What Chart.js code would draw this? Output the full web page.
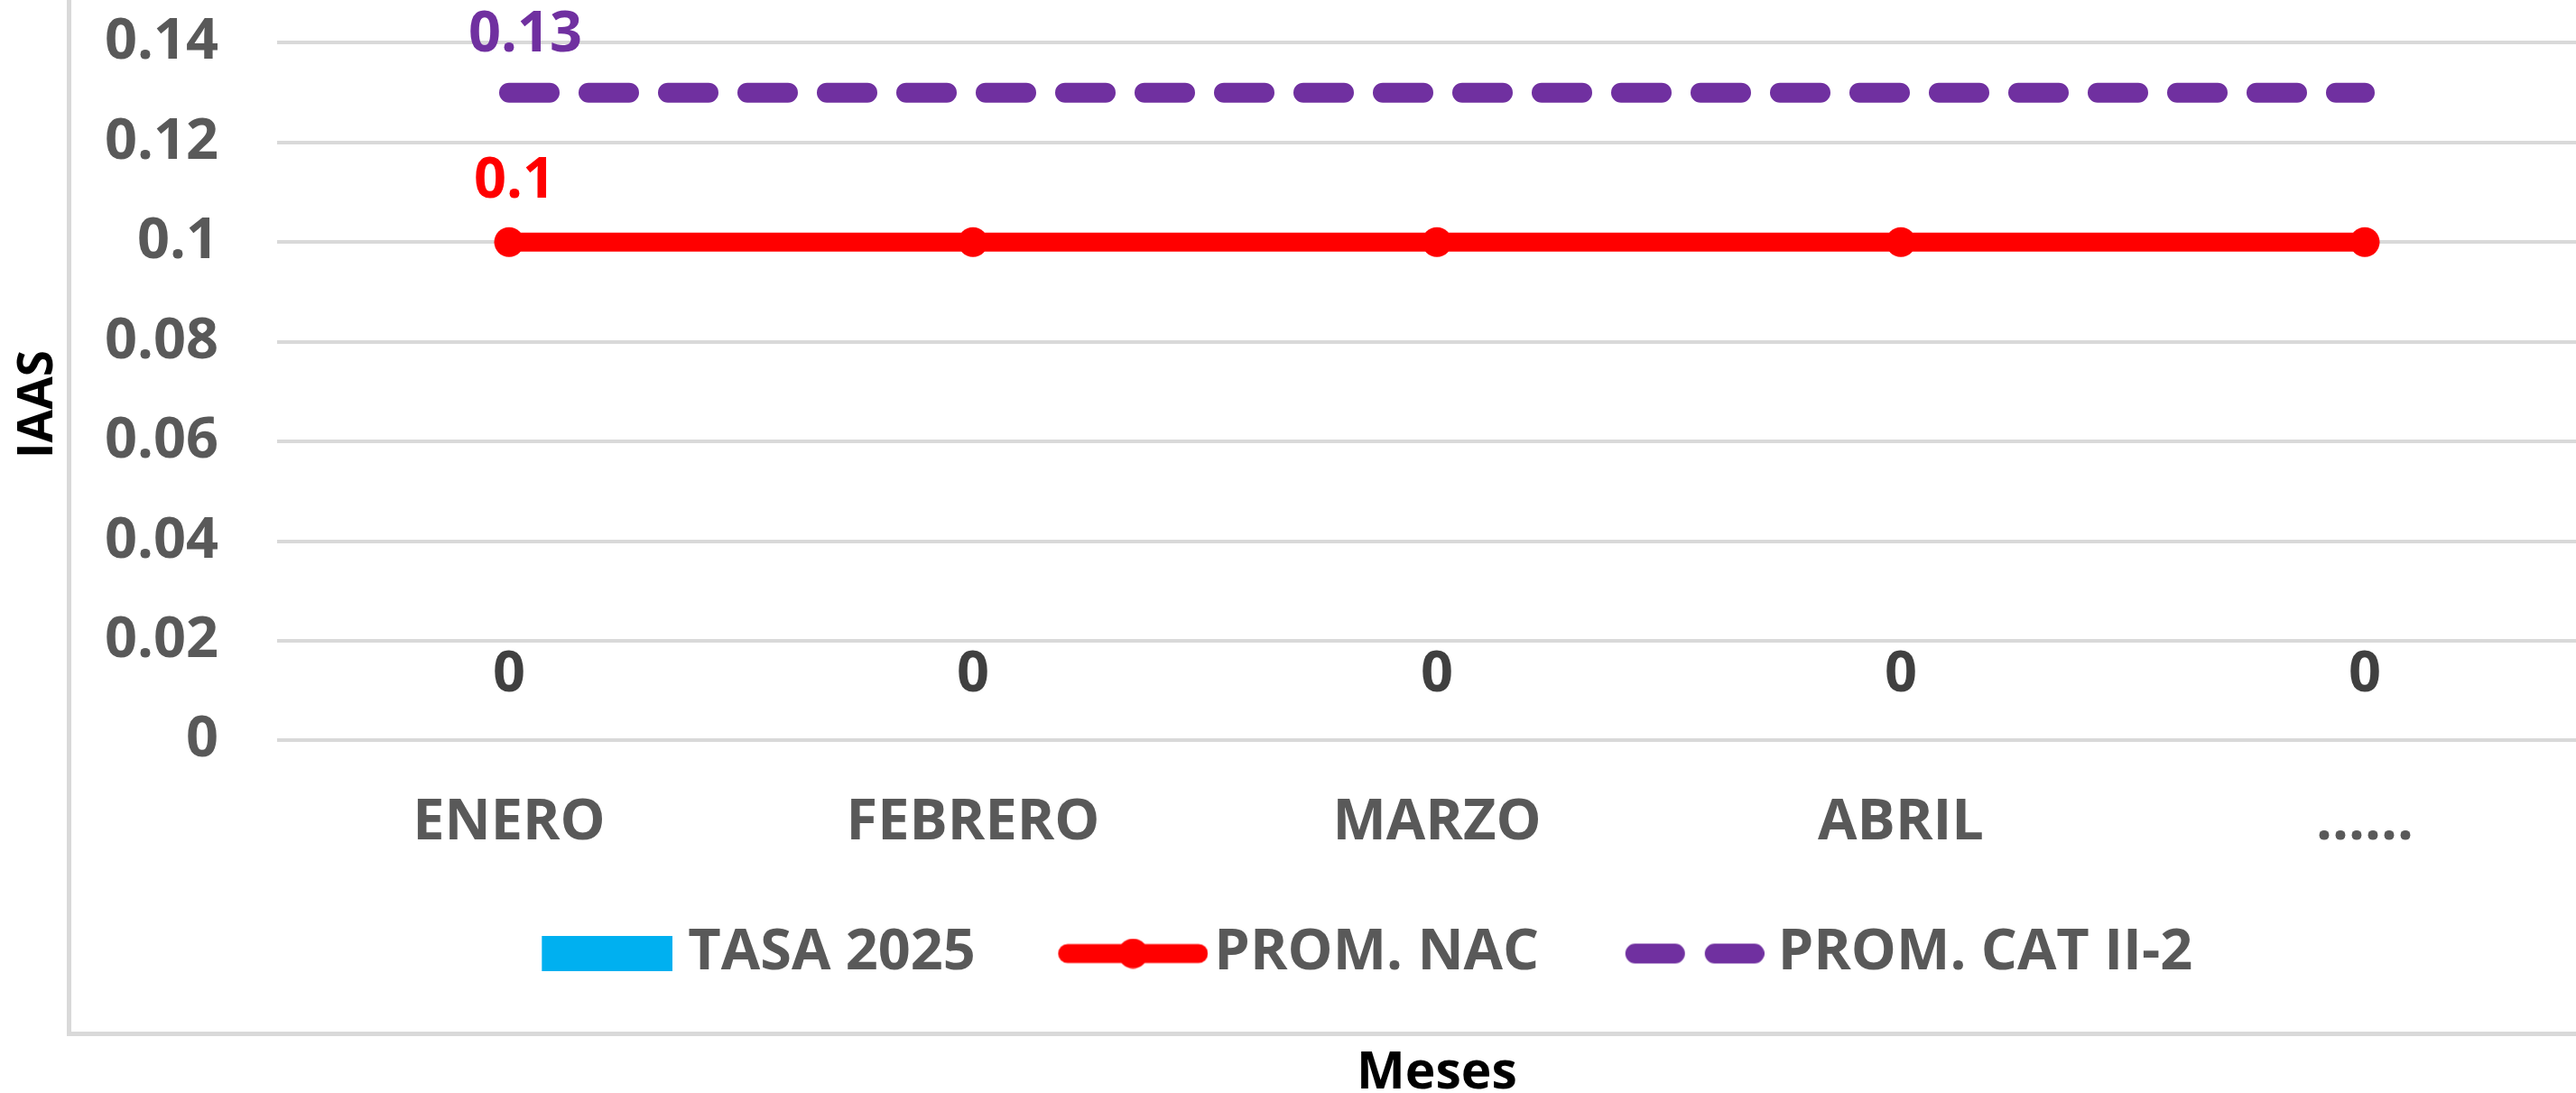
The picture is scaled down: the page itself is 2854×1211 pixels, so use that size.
<!DOCTYPE html>
<html>
<head>
<meta charset="utf-8">
<script src="https://cdn.jsdelivr.net/npm/chart.js@4.4.1/dist/chart.umd.min.js"></script>
<style>
  html, body { margin: 0; padding: 0; background: #fff; width: 2854px; height: 1211px; overflow: hidden; position: relative; }
  #chart { position: absolute; left: 0; top: -150px; }
</style>
</head>
<body>
<canvas id="chart" width="2952" height="1400"></canvas>
<script>
// data
var months = ['ENERO', 'FEBRERO', 'MARZO', 'ABRIL', '......'];
var tasa2025 = [0, 0, 0, 0, 0];
var promNac = [0.1, 0.1, 0.1, 0.1, 0.1];
var promCat = [0.13, 0.13, 0.13, 0.13, 0.13];
var seriesNames = ['TASA 2025', 'PROM. NAC', 'PROM. CAT II-2'];
var yTicks = { min: 0, max: 0.16, step: 0.02 };
// which points carry a value label
var labelAt = [[0, 1, 2, 3, 4], [0], [0]];

var colors = { bar: '#00B0F0', nac: '#FF0000', cat: '#7030A0', text: '#595959', grid: '#D9D9D9' };
var FONT = "'Open Sans', sans-serif";
var fontSize = 63;
var boxW = 212;

Chart.defaults.font.family = FONT;

// legend symbols drawn on small canvases, symbol kept at the right side
function icon(gap, len, h, draw) {
  var c = document.createElement('canvas');
  c.width = boxW + fontSize - 2 * gap;
  c.height = h;
  var g = c.getContext('2d');
  g.translate(c.width - len, 0);
  draw(g, len, h);
  return c;
}
var legendIcons = [
  icon(17, 145, 39, function(g, w, h) {
    g.fillStyle = colors.bar;
    g.fillRect(0, 0, w, h);
  }),
  icon(7, 166, 34, function(g, w, h) {
    g.strokeStyle = colors.nac;
    g.lineWidth = 21;
    g.lineCap = 'round';
    g.beginPath();
    g.moveTo(10.5, h / 2);
    g.lineTo(w - 10.5, h / 2);
    g.stroke();
    g.fillStyle = colors.nac;
    g.beginPath();
    g.arc(w / 2, h / 2, 16.5, 0, Math.PI * 2);
    g.fill();
  }),
  icon(15, 154, 24, function(g, w, h) {
    g.strokeStyle = colors.cat;
    g.lineWidth = 22;
    g.lineCap = 'round';
    g.beginPath();
    g.moveTo(11, h / 2); g.lineTo(66 - 11, h / 2);
    g.moveTo(w - 66 + 11, h / 2); g.lineTo(w - 11, h / 2);
    g.stroke();
  })
];

var boxPlugin = {
  id: 'box',
  beforeDraw: function(chart) {
    var ctx = chart.ctx;
    ctx.save();
    ctx.fillStyle = '#fff';
    ctx.fillRect(0, 0, chart.width, chart.height);
    ctx.strokeStyle = colors.grid;
    ctx.lineWidth = 5;
    ctx.strokeRect(76.5, -20, 4000, 1315.5);
    ctx.restore();
  },
  afterDraw: function(chart) {
    // y axis title
    var ctx = chart.ctx;
    ctx.save();
    ctx.translate(42.5, 598);
    ctx.rotate(-Math.PI / 2);
    ctx.font = 'bold 53px ' + FONT;
    ctx.fillStyle = '#000';
    ctx.textAlign = 'center';
    ctx.textBaseline = 'middle';
    ctx.fillText('IAAS', 0, 0);
    ctx.restore();
  }
};

var valueLabels = {
  id: 'valueLabels',
  afterDatasetsDraw: function(chart) {
    var ctx = chart.ctx;
    var style = [
      { color: '#404040', dx: 0, dy: 72 },
      { color: colors.nac, dx: 6, dy: 67 },
      { color: colors.cat, dx: 18, dy: 64 }
    ];
    ctx.save();
    ctx.font = 'bold ' + fontSize + 'px ' + FONT;
    ctx.textAlign = 'center';
    ctx.textBaseline = 'middle';
    chart.data.datasets.forEach(function(ds, di) {
      var meta = chart.getDatasetMeta(di);
      labelAt[di].forEach(function(i) {
        var el = meta.data[i];
        ctx.fillStyle = style[di].color;
        ctx.fillText(String(ds.data[i]), el.x + style[di].dx, el.y - style[di].dy);
      });
    });
    ctx.restore();
  }
};

new Chart(document.getElementById('chart'), {
  type: 'bar',
  data: {
    labels: months,
    datasets: [
      {
        type: 'bar',
        label: seriesNames[0],
        data: tasa2025,
        backgroundColor: colors.bar,
        order: 3
      },
      {
        type: 'line',
        label: seriesNames[1],
        data: promNac,
        borderColor: colors.nac,
        backgroundColor: colors.nac,
        borderWidth: 21,
        pointRadius: 16.5,
        pointHoverRadius: 16.5,
        pointBorderWidth: 0,
        pointBackgroundColor: colors.nac,
        order: 2
      },
      {
        type: 'line',
        label: seriesNames[2],
        data: promCat,
        borderColor: colors.cat,
        backgroundColor: colors.cat,
        borderWidth: 22,
        borderDash: [45, 43],
        borderCapStyle: 'round',
        pointRadius: 0,
        pointHoverRadius: 0,
        order: 1
      }
    ]
  },
  options: {
    responsive: false,
    animation: false,
    layout: { padding: { top: 87, right: 75, left: 71, bottom: 0 } },
    plugins: {
      tooltip: { enabled: false },
      legend: {
        position: 'bottom',
        labels: {
          usePointStyle: true,
          pointStyleWidth: boxW,
          padding: 21,
          color: colors.text,
          font: { size: fontSize, weight: 'bold' },
          sort: function(a, b) { return a.datasetIndex - b.datasetIndex; },
          generateLabels: function(chart) {
            var items = Chart.defaults.plugins.legend.labels.generateLabels(chart);
            items.forEach(function(it) { it.pointStyle = legendIcons[it.datasetIndex]; });
            return items;
          }
        }
      },
      title: {
        display: true,
        text: 'Meses',
        position: 'bottom',
        fullSize: false,
        color: '#000',
        font: { size: 57, weight: 'bold', lineHeight: 1 },
        padding: { top: 63, bottom: 32 }
      }
    },
    scales: {
      x: {
        grid: { display: false, drawTicks: false },
        border: { display: false },
        ticks: {
          color: colors.text,
          padding: 54,
          maxRotation: 0,
          autoSkip: false,
          font: { size: fontSize, weight: 'bold' }
        }
      },
      y: {
        min: yTicks.min,
        max: yTicks.max,
        afterFit: function(scale) {
          scale.width = 236;
          scale.paddingTop = 0;
          scale.paddingBottom = 0;
        },
        grid: { color: colors.grid, lineWidth: 4, drawTicks: false },
        border: { display: false },
        ticks: {
          stepSize: yTicks.step,
          padding: 65,
          color: colors.text,
          font: { size: fontSize, weight: 'bold' },
          callback: function(v) { return String(Math.round(v * 100) / 100); }
        }
      }
    }
  },
  plugins: [boxPlugin, valueLabels]
});
</script>
</body>
</html>
